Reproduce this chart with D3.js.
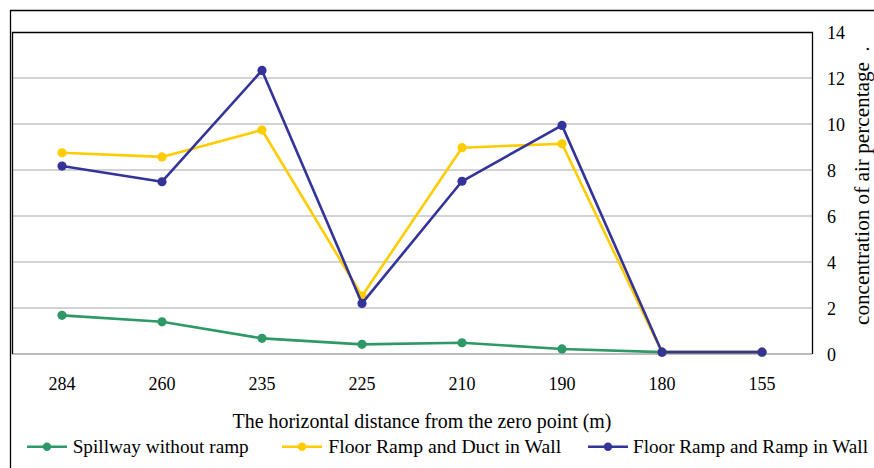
<!DOCTYPE html>
<html><head><meta charset="utf-8">
<script src="https://cdn.jsdelivr.net/npm/d3@7/dist/d3.min.js"></script>
<style>body{margin:0;background:#fff}svg{display:block}text{font-family:"Liberation Serif","Times New Roman",serif;fill:#000}</style>
</head><body><svg id="c" width="874" height="468"></svg>
<script>
const categories = ["284","260","235","225","210","190","180","155"];
const spillway = [1.68,1.40,0.68,0.42,0.49,0.22,0.08,0.08];
const ductWall = [8.75,8.57,9.74,2.52,8.97,9.14,0.08,0.08];
const rampWall = [8.17,7.49,12.33,2.2,7.51,9.94,0.08,0.08];
const seriesNames = ["Spillway without ramp","Floor Ramp and Duct in Wall","Floor Ramp and Ramp in Wall"];
const seriesColors = ["#2E9966","#FFCC00","#333399"];
const yTicks = [0,2,4,6,8,10,12,14];

const svg = d3.select("#c");
const L=12,R=812,T=32,B=354;
const x = d3.scaleBand().domain(categories).range([L,R]);
const y = d3.scaleLinear().domain([0,14]).range([B,T]);

// outer frame
svg.append("path").attr("d","M10.5,468 V10.5 H874").attr("fill","none").attr("stroke","#000").attr("stroke-width",1.3);

// gridlines
svg.append("g").selectAll("line").data(yTicks.filter(d=>d>0&&d<14)).join("line")
  .attr("x1",L).attr("x2",R).attr("y1",d=>y(d)).attr("y2",d=>y(d))
  .attr("stroke","#c4c4c4").attr("stroke-width",1.3);
svg.append("line").attr("x1",L).attr("x2",R).attr("y1",B).attr("y2",B).attr("stroke","#a6a6a6").attr("stroke-width",1.5);
// plot border
svg.append("path").attr("d",`M${L+0.5},${B} V${T+0.5} H${R+0.5} V${B}`).attr("fill","none").attr("stroke","#000").attr("stroke-width",1.3);

// y axis (right)
const yAxis = d3.axisRight(y).tickValues(yTicks).tickSize(0).tickPadding(15).tickFormat(d3.format("d"));
const gy = svg.append("g").attr("transform",`translate(${R},0)`).call(yAxis);
gy.select(".domain").remove();
gy.selectAll("text").attr("font-size",18).attr("dy","0.34em");

// x axis
const xAxis = d3.axisBottom(x).tickSize(0).tickPadding(23);
const gx = svg.append("g").attr("transform",`translate(0,${B})`).call(xAxis);
gx.select(".domain").remove();
gx.selectAll("text").attr("font-size",18);

// axis titles
svg.append("text").attr("x",232.5).attr("y",427.5).attr("font-size",20)
  .attr("textLength",379).attr("lengthAdjust","spacingAndGlyphs").text("The horizontal distance from the zero point (m)");
svg.append("text").attr("transform","translate(869,325) rotate(-90)").attr("font-size",20)
  .attr("textLength",263).attr("lengthAdjust","spacingAndGlyphs").text("concentration of air percentage");
svg.append("text").attr("transform","translate(869,49) rotate(-90)").attr("text-anchor","middle").attr("font-size",20)
  .text(".");

// lines
const data = [spillway,ductWall,rampWall];
const line = d3.line().x((d,i)=>x(categories[i])+x.bandwidth()/2).y(d=>y(d));
data.forEach((s,k)=>{
  const g = svg.append("g");
  g.append("path").attr("d",line(s)).attr("fill","none").attr("stroke",seriesColors[k]).attr("stroke-width",2.6).attr("stroke-linejoin","round");
  g.selectAll("circle").data(s).join("circle")
    .attr("cx",(d,i)=>x(categories[i])+x.bandwidth()/2).attr("cy",d=>y(d)).attr("r",4.6).attr("fill",seriesColors[k]);
});

// legend
const legX = [27,282,588];
const legTextX = [72.7,328.3,633];
const legTextW = [176,233,235];
seriesNames.forEach((n,k)=>{
  const g = svg.append("g").attr("transform",`translate(${legX[k]},446.7)`);
  g.append("line").attr("x1",0).attr("x2",40).attr("stroke",seriesColors[k]).attr("stroke-width",2.6);
  g.append("circle").attr("cx",20).attr("r",4.2).attr("fill",seriesColors[k]);
  g.append("text").attr("x",legTextX[k]-legX[k]).attr("y",6.4).attr("font-size",19.3)
    .attr("textLength",legTextW[k]).attr("lengthAdjust","spacingAndGlyphs").text(n);
});
</script></body></html>
